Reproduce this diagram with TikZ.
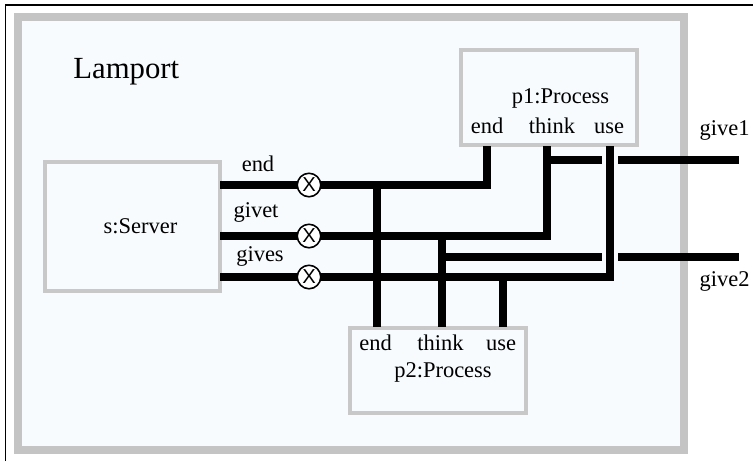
\documentclass[tikz,border=0pt]{standalone}
\usepackage{fontspec}
\setmainfont{Liberation Serif}
\newfontfamily\syncfont{Liberation Sans}
\definecolor{framegray}{HTML}{C4C4C4}
\definecolor{boxgray}{HTML}{C8C8C8}
\definecolor{paper}{HTML}{F7FBFD}

\begin{document}
\begin{tikzpicture}
[x=0.02cm,y=-0.02cm,
 box/.style={draw=boxgray,line width=0.08cm,fill=paper,inner sep=0pt},
 wire/.style={line width=0.155cm},
 gap/.style={draw=paper,line width=0.33cm},
 lbl/.style={anchor=base,inner sep=0pt,font=\fontsize{12.8}{15}\selectfont},
 sync/.style={circle,draw,line width=0.9pt,fill=white,minimum size=0.47cm,inner sep=0pt,font=\syncfont\fontsize{11.5}{11.5}\selectfont}]
\useasboundingbox (0,0) rectangle (753,461);
\fill[white] (0,0) rectangle (753,461);
\draw[line width=1.1pt] (5.5,461) -- (5.5,5) -- (753,5);
\draw[draw=framegray,fill=paper,line width=0.16cm] (18,17) rectangle (684,450);
\node[lbl,anchor=base west,font=\fontsize{17.5}{20}\selectfont] (title) at (73,78) {Lamport};

\node[box,minimum width=3.5cm,minimum height=2.58cm] (srv) at (132.5,226.5) {};
\node[box,minimum width=3.52cm,minimum height=1.9cm] (p1) at (549,97.5) {};
\node[box,minimum width=3.52cm,minimum height=1.7cm] (p2) at (438,370.5) {};
\node[lbl] (srvname) at (140.5,233) {s:Server};
\node[lbl] (p1name) at (560.5,103) {p1:Process};
\node[lbl] (p2name) at (443,377) {p2:Process};
\foreach \n/\x in {end/487,think/552,use/609}
  \node[lbl] (p1\n) at (\x,133) {\n};
\foreach \n/\x in {end/375.5,think/440.5,use/501}
  \node[lbl] (p2\n) at (\x,350) {\n};
\node[lbl] (send) at (258,171) {end};
\node[lbl] (sgivet) at (256,217) {givet};
\node[lbl] (sgives) at (260,261) {gives};
\node[lbl] (lgive1) at (724.5,135) {give1};
\node[lbl] (lgive2) at (724.5,286) {give2};

\coordinate (sEnd) at (220,185);
\coordinate (sGivet) at (220,236);
\coordinate (sGives) at (220,277);
\coordinate (a1) at (487,146);
\coordinate (a2) at (547,146);
\coordinate (a3) at (610,146);
\coordinate (b1) at (377,327);
\coordinate (b2) at (442,327);
\coordinate (b3) at (503,327);
\coordinate (give1) at (739,160);
\coordinate (give2) at (739,257);
\coordinate (hop1) at (610,151);
\coordinate (hop2) at (610,268);

\draw[wire] (a2 |- give1) -- (give1);
\draw[wire] (b2 |- give2) -- (give2);
\draw[gap] (hop1) -- (hop2);
\draw[wire] (sEnd) -- (a1 |- sEnd) -- (a1);
\draw[wire] (sGivet) -- (a2 |- sGivet) -- (a2);
\draw[wire] (sGives) -- (a3 |- sGives) -- (a3);
\foreach \from/\to in {sEnd/b1,sGivet/b2,sGives/b3}
  \draw[wire] (\to |- \from) -- (\to);
\foreach \w/\y in {1/185,2/236,3/277}
  \node[sync] (x\w) at (309,\y) {X};
\end{tikzpicture}
\end{document}
